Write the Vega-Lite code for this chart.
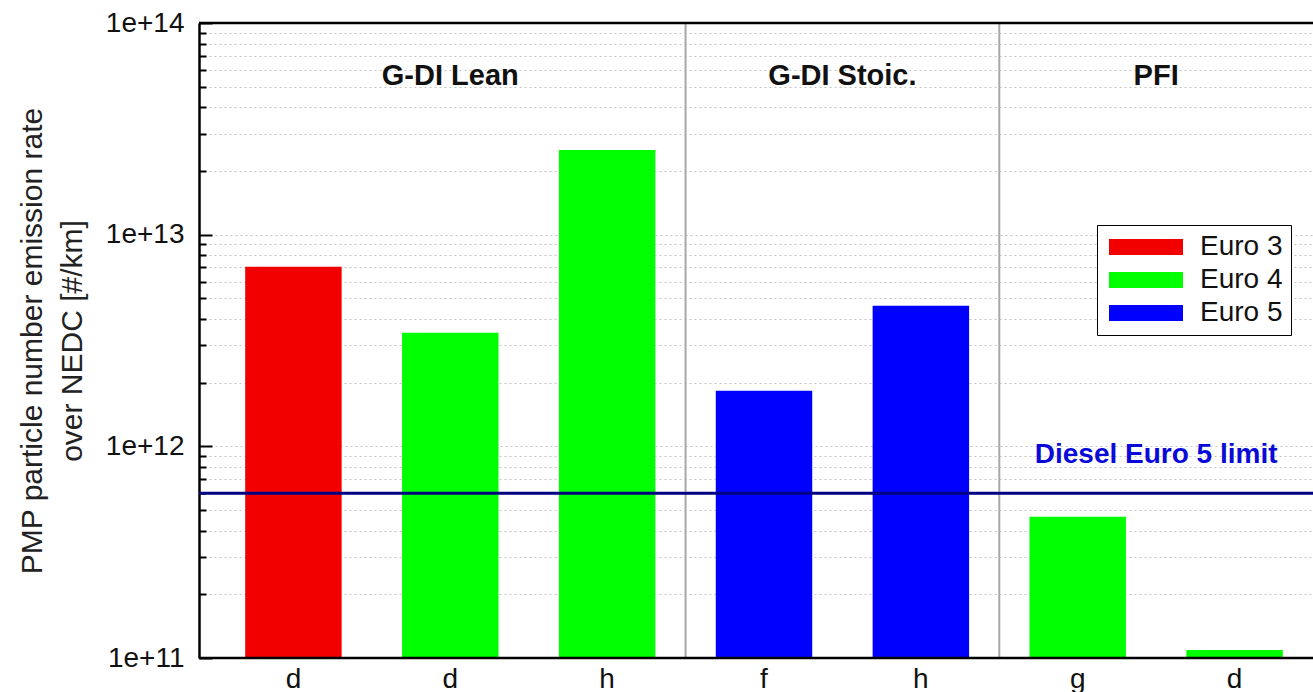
{
  "$schema": "https://vega.github.io/schema/vega-lite/v6.json",
  "width": 1114,
  "height": 635,
  "autosize": {"type": "none"},
  "padding": {"left": 199, "top": 23, "right": 0, "bottom": 34},
  "background": "white",
  "config": {"view": {"stroke": null}, "font": "Liberation Sans"},
  "datasets": {
    "bars": [
      {"id": "d_1", "label": "d", "group": "G-DI Lean", "euro": "Euro 3", "value": 7.05e12},
      {"id": "d_2", "label": "d", "group": "G-DI Lean", "euro": "Euro 4", "value": 3.44e12},
      {"id": "h_3", "label": "h", "group": "G-DI Lean", "euro": "Euro 4", "value": 2.51e13},
      {"id": "f_4", "label": "f", "group": "G-DI Stoic.", "euro": "Euro 5", "value": 1.83e12},
      {"id": "h_5", "label": "h", "group": "G-DI Stoic.", "euro": "Euro 5", "value": 4.62e12},
      {"id": "g_6", "label": "g", "group": "PFI", "euro": "Euro 4", "value": 4.65e11},
      {"id": "d_7", "label": "d", "group": "PFI", "euro": "Euro 4", "value": 1.09e11}
    ],
    "seps": [{"id": "f_4"}, {"id": "g_6"}],
    "groups": [
      {"group": "G-DI Lean", "id": "d_2", "where": "mid"},
      {"group": "G-DI Stoic.", "id": "h_5", "where": "edge"},
      {"group": "PFI", "id": "d_7", "where": "edge"}
    ],
    "limit": [{"name": "Diesel Euro 5 limit", "id": "d_7", "value": 6e11}],
    "frame": [{"edge": 1e14}, {"edge": 1e11}]
  },
  "layer": [
    {
      "data": {"name": "bars"},
      "mark": {"type": "bar", "width": {"band": 0.615}},
      "encoding": {
        "x": {
          "field": "id", "type": "nominal",
          "scale": {"type": "band", "domain": ["d_1", "d_2", "h_3", "f_4", "h_5", "g_6", "d_7"], "range": [16, 1114], "paddingInner": 0, "paddingOuter": 0},
          "axis": {"title": null, "labelExpr": "slice(datum.value, 0, 1)", "labelAngle": 0, "ticks": false, "domain": false, "labelFontSize": 28, "labelColor": "#111", "labelPadding": 7, "grid": false}
        },
        "y": {
          "field": "value", "type": "quantitative", "stack": null,
          "scale": {"type": "log", "domain": [1e11, 1e14]},
          "axis": {
            "orient": "left",
            "values": [1e11, 1e12, 1e13, 1e14],
            "format": ".0e",
            "tickSize": -13, "tickColor": "black", "tickWidth": 2,
            "domainColor": "black", "domainWidth": 2.5,
            "labelFontSize": 28, "labelColor": "#111", "labelPadding": 28,
            "grid": true, "gridColor": "#c4c4c4", "gridDash": [2, 3], "gridWidth": 1,
            "title": ["PMP particle number emission rate", "over NEDC [#/km]"],
            "titleFontSize": 30, "titleFontWeight": "normal", "titleColor": "#222", "titlePadding": 18, "titleLineHeight": 40
          }
        },
        "y2": {"datum": 1e11},
        "color": {
          "field": "euro", "type": "nominal",
          "scale": {"domain": ["Euro 3", "Euro 4", "Euro 5"], "range": ["#f20000", "#00ff00", "#0000ff"]},
          "legend": {
            "orient": "none", "legendX": 898, "legendY": 202, "title": null,
            "symbolType": "M-1,-0.8L6.4,-0.8L6.4,0.8L-1,0.8Z", "symbolSize": 400, "symbolStrokeWidth": 0, "symbolOpacity": 1,
            "labelFontSize": 28, "labelColor": "#111", "labelOffset": 67,
            "strokeColor": "black", "fillColor": "white", "padding": 8, "rowPadding": 5
          }
        }
      }
    },
    {
      "data": {"name": "seps"},
      "mark": {"type": "rule", "color": "#a8a8a8", "strokeWidth": 2},
      "encoding": {
        "x": {"field": "id", "type": "nominal", "bandPosition": 0}
      }
    },
    {
      "data": {"name": "limit"},
      "mark": {"type": "rule", "color": "#000080", "strokeWidth": 3},
      "encoding": {
        "y": {
          "field": "value", "type": "quantitative",
          "scale": {"type": "log", "domain": [1e11, 1e14]},
          "axis": {
            "orient": "left",
            "values": [2e11, 3e11, 4e11, 5e11, 6e11, 7e11, 8e11, 9e11, 2e12, 3e12, 4e12, 5e12, 6e12, 7e12, 8e12, 9e12, 2e13, 3e13, 4e13, 5e13, 6e13, 7e13, 8e13, 9e13],
            "labels": false, "domain": false, "title": null,
            "tickSize": -7, "tickColor": "black", "tickWidth": 2,
            "grid": true, "gridColor": "#c4c4c4", "gridDash": [2, 3], "gridWidth": 1
          }
        }
      }
    },
    {
      "data": {"name": "limit"},
      "mark": {"type": "text", "fontSize": 28, "fontWeight": "bold", "color": "#0a0ad8", "baseline": "alphabetic", "align": "center"},
      "encoding": {
        "x": {"field": "id", "type": "nominal", "bandPosition": 0},
        "y": {"datum": 8.35e11, "type": "quantitative", "axis": null},
        "text": {"field": "name"}
      }
    },
    {
      "data": {"name": "groups"},
      "transform": [{"filter": "datum.where === 'mid'"}],
      "mark": {"type": "text", "fontSize": 29, "fontWeight": "bold", "color": "#111", "baseline": "alphabetic", "align": "center"},
      "encoding": {
        "x": {"field": "id", "type": "nominal", "bandPosition": 0.5},
        "y": {"datum": 5.1e13, "type": "quantitative", "axis": null},
        "text": {"field": "group"}
      }
    },
    {
      "data": {"name": "groups"},
      "transform": [{"filter": "datum.where === 'edge'"}],
      "mark": {"type": "text", "fontSize": 29, "fontWeight": "bold", "color": "#111", "baseline": "alphabetic", "align": "center"},
      "encoding": {
        "x": {"field": "id", "type": "nominal", "bandPosition": 0},
        "y": {"datum": 5.1e13, "type": "quantitative", "axis": null},
        "text": {"field": "group"}
      }
    },
    {
      "data": {"name": "frame"},
      "mark": {"type": "rule", "color": "black", "strokeWidth": 2.5},
      "encoding": {
        "y": {"field": "edge", "type": "quantitative", "axis": null}
      }
    }
  ],
  "resolve": {"axis": {"y": "independent"}}
}
